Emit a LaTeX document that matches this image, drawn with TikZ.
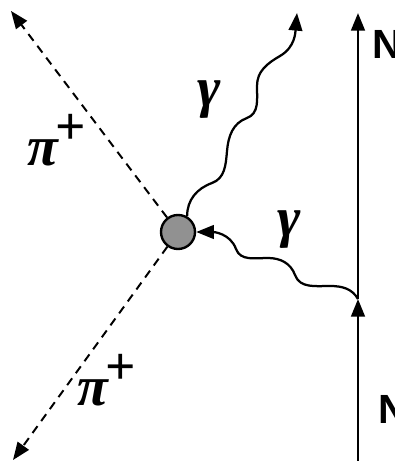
\documentclass[tikz,border=0pt]{standalone}
\usepackage{fontspec}
\usetikzlibrary{arrows.meta}
\newfontfamily\nucfont{Liberation Sans}
\newfontfamily\greekfont{Liberation Serif}
\definecolor{blobgray}{RGB}{145,145,145}
\newcommand{\pionlabel}{π\kern-2pt\raisebox{15pt}{\fontsize{38}{38}\selectfont\upshape+}}

\begin{document}
\begin{tikzpicture}[x=0.025cm, y=0.025cm, >={Triangle[length=4.4mm,width=3.4mm]},
    pion/.style={dash pattern=on 6pt off 4.5pt, line width=1.4pt},
    photon/.style={line width=1.6pt},
    nucleon/.style={line width=1.9pt},
    lbl/.style={font=\fontsize{40}{40}\selectfont\greekfont\bfseries\itshape, inner sep=0pt},
    nlbl/.style={font=\fontsize{29}{31}\selectfont\nucfont\bfseries, inner sep=0pt, anchor=west}]
    \useasboundingbox (0,0) rectangle (395,461);

    \node[circle, draw, line width=1.7pt, fill=blobgray, minimum size=0.85cm, inner sep=0pt] (blob) at (178,229) {};

    \coordinate (pitop) at (11,450);
    \coordinate (pibot) at (13,1);
    \coordinate (gout) at (297,448);
    \coordinate (ntop) at (358,448);
    \coordinate (nbot) at (358,-5);
    \coordinate (vtx) at (358,162);

    \draw[pion, ->] (blob) -- (pitop);
    \draw[pion, ->] (blob) -- (pibot);

    \draw[nucleon, ->] (nbot) -- (vtx);
    \draw[nucleon, ->] (vtx) -- (ntop);

    % outgoing photon
    \draw[photon, ->] (blob.60) to[out=90,in=-160] (212,278) to[out=20,in=-95] (227,310)
        to[out=85,in=-160] (247,343) to[out=20,in=-90] (257,375)
        to[out=90,in=-150] (280,405) to[out=30,in=-95] (gout);
    % exchanged photon
    \draw[photon, ->] (vtx) to[out=120,in=0] (330,175) to[out=180,in=-70] (295,186)
        to[out=110,in=0] (268,203) to[out=180,in=-70] (236,212)
        to[out=110,in=0] (blob.east);

    \node[lbl] (gam1) at (209,361) {γ};
    \node[lbl] (gam2) at (289,231) {γ};
    \node[lbl] (pi1) at (57,321) {\pionlabel};
    \node[lbl] (pi2) at (107,81) {\pionlabel};
    \node[nlbl] (n1) at (372,417) {N};
    \node[nlbl] (n2) at (378,52) {N};
\end{tikzpicture}
\end{document}
